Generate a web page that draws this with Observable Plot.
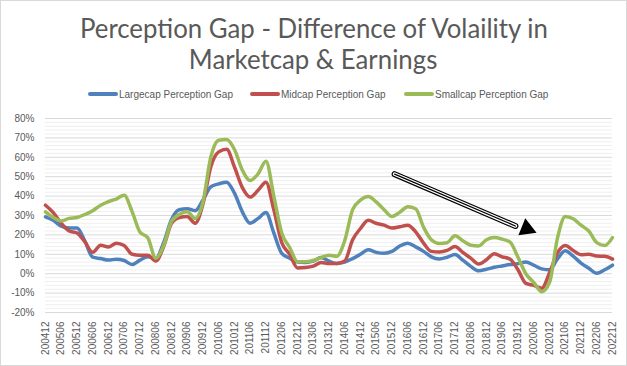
<!DOCTYPE html>
<html>
<head>
<meta charset="utf-8">
<script src="https://cdn.jsdelivr.net/npm/d3@7"></script>
<script src="https://cdn.jsdelivr.net/npm/@observablehq/plot@0.6"></script>
<style>
  html, body { margin: 0; padding: 0; background: #fff; }
  #wrap { position: relative; width: 627px; height: 366px; overflow: hidden; background: #fff; font-family: Lato, "Liberation Sans", Arial, sans-serif; color: #595959; }
  #frame { position: absolute; left: 0; top: 0; width: 627px; height: 366px; box-sizing: border-box; border: 1px solid #d9d9d9; pointer-events: none; }
  #title { position: absolute; left: 0; top: 12px; width: 627px; text-align: center; font-family: Lato, sans-serif; font-weight: 400; font-size: 27px; line-height: 31px; color: #595959; }
  #title span { display: inline-block; transform: scaleX(0.955); transform-origin: center; white-space: nowrap; }
  #legend { position: absolute; top: 86px; left: 0; width: 627px; height: 16px; }
  .item { position: absolute; top: 0; height: 16px; display: flex; align-items: center; font-family: "Liberation Sans", Arial, sans-serif; font-size: 10px; color: #595959; white-space: nowrap; }
  .sw { width: 30px; height: 4px; border-radius: 2px; margin-right: 1px; }
  #chart { position: absolute; left: 0; top: 105px; }
</style>
</head>
<body>
<div id="wrap">
  <div id="title"><span>Perception Gap - Difference of Volaility in</span><br><span>Marketcap &amp; Earnings</span></div>
  <div id="legend"></div>
  <div id="chart"></div>
  <div id="frame"></div>
</div>
<script>
// Quarter-end months (YYYYMM), Dec 2004 .. Dec 2022
const periods = [
  "200412","200503","200506","200509","200512","200603","200606","200609","200612",
  "200703","200706","200709","200712","200803","200806","200809","200812",
  "200903","200906","200909","200912","201003","201006","201009","201012",
  "201103","201106","201109","201112","201203","201206","201209","201212",
  "201303","201306","201309","201312","201403","201406","201409","201412",
  "201503","201506","201509","201512","201603","201606","201609","201612",
  "201703","201706","201709","201712","201803","201806","201809","201812",
  "201903","201906","201909","201912","202003","202006","202009","202012",
  "202103","202106","202109","202112","202203","202206","202209","202212"
];
const largecap = [
  29.3,27.5,24.5,23.5,23.5,17,8.5,7.8,7,
  7.5,6.8,4.7,7,8.7,7.8,16,28,
  33,33.5,32.5,38,44.8,46.3,47.2,41.5,
  32,26,28.5,31.5,21,10.5,8,6,
  5.8,6.5,8.3,6.5,5.3,6,7.8,10,
  12.3,11,10.5,11.5,14.3,15.7,13.8,11.5,
  8.7,7.6,8.5,9.9,7,3.8,1.5,2.3,
  3.3,4,4.7,5.2,6,4.4,2.5,2,
  7.5,11.8,9,5.5,2.8,0.2,2,4.4
];
const midcap = [
  35.3,31.5,26,22,21,16.5,11,14.7,13.8,
  15.7,14.5,10,9.5,9.5,6.5,14,26,
  29,29.5,26,36,55,62.8,64.2,55,
  44.5,39.5,43,47.2,33,16,10,3,
  3.2,3.9,5.8,5.2,5.3,6.5,17.5,23.3,
  27.5,26,25,23.5,24.2,25,21.6,15.8,
  11.5,11.2,12,14,11,8,5,7.2,
  10.3,8.7,7.5,2,-5,-6,-7.5,0.5,
  10.5,14.5,12,9.8,10,9.1,9,7.5
];
const smallcap = [
  31.9,29,27.2,28.5,29,30.5,32.5,35.3,37.2,
  38.5,40.5,32,21.5,18.5,8,14.5,27,
  30.5,31.9,28.5,37,60,68.8,69.2,64,
  53.5,48,51.5,58,40,21,13.5,6.2,
  6.1,6.8,8.3,9.5,9,17,33,37.9,
  39.8,37,33,29.5,31.7,34.5,33.5,24,
  17.5,15.6,16,19.5,17,14.7,14.3,17.5,
  18.6,17.8,16.3,8.5,0,-4.5,-9.3,-4.5,
  18,29.5,28.3,25,22,16,14.5,18.6
];
const seriesNames = ["Largecap Perception Gap", "Midcap Perception Gap", "Smallcap Perception Gap"];
const seriesColors = ["#4F81BD", "#C0504D", "#9BBB59"];
const xTickLabels = [
  "200412","200506","200512","200606","200612","200706","200712","200806","200812",
  "200906","200912","201006","201012","201106","201112","201206","201212","201306",
  "201312","201406","201412","201506","201512","201606","201612","201706","201712",
  "201806","201812","201906","201912","202006","202012","202106","202112","202206","202212"
];
const yTicks = [-20, -10, 0, 10, 20, 30, 40, 50, 60, 70, 80];
const yMinorTicks = [-18,-16,-14,-12,-8,-6,-4,-2,2,4,6,8,12,14,16,18,22,24,26,28,32,34,36,38,42,44,46,48,52,54,56,58,62,64,66,68,72,74,76,78];
// annotation arrow (date, value): start, end of shaft, tip
const arrowPts = [["201601", 51.3], ["201911", 24.6], ["202007", 21.2]];

const parse = d3.utcParse("%Y%m");
const valuesBySeries = [largecap, midcap, smallcap];
const rows = [];
valuesBySeries.forEach((vals, i) => {
  vals.forEach((v, j) => rows.push({series: seriesNames[i], date: parse(periods[j]), value: v}));
});
const xTicks = xTickLabels.map(parse);
const arrow = arrowPts.map(([d, v]) => ({date: parse(d), value: v}));
const shaft = arrow.slice(0, 2);
const tip = arrow[2];

// legend
const legend = document.getElementById("legend");
const legendLeft = [88, 250, 404];
seriesNames.forEach((n, i) => {
  const it = document.createElement("div");
  it.className = "item";
  it.style.left = legendLeft[i] + "px";
  it.innerHTML = `<div class="sw" style="background:${seriesColors[i]}"></div><span>${n}</span>`;
  legend.appendChild(it);
});

const plot = Plot.plot({
  width: 627,
  height: 261,
  marginLeft: 45,
  marginRight: 15,
  marginTop: 13,
  marginBottom: 54,
  style: {fontFamily: '"Liberation Sans", Arial, sans-serif', fontSize: "10px", color: "#595959", background: "transparent"},
  x: {type: "utc", domain: [parse(periods[0]), parse(periods[periods.length - 1])]},
  y: {domain: [-20, 80]},
  color: {domain: seriesNames, range: seriesColors},
  marks: [
    Plot.ruleY(yMinorTicks, {stroke: "#efefef", strokeWidth: 1}),
    Plot.ruleY(yTicks, {stroke: "#d9d9d9", strokeWidth: 1}),
    Plot.axisY({ticks: yTicks, tickFormat: d => d + "%", tickSize: 0, tickPadding: 11, label: null, fill: "#595959"}),
    Plot.axisX({ticks: xTicks, tickFormat: d3.utcFormat("%Y%m"), tickRotate: -90, tickSize: 0, tickPadding: 9, label: null, fill: "#595959"}),
    Plot.line(rows, {x: "date", y: "value", stroke: "series", z: "series", strokeWidth: 3.5, curve: "monotone-x", strokeLinejoin: "round", strokeLinecap: "round"}),
    Plot.line(shaft, {x: "date", y: "value", stroke: "black", strokeWidth: 6}),
    Plot.line(shaft, {x: "date", y: "value", stroke: "white", strokeWidth: 3.6}),
    Plot.line(shaft, {x: "date", y: "value", stroke: "black", strokeWidth: 1.3}),
    Plot.dot([tip], {x: "date", y: "value", symbol: "triangle", r: 6.8, fill: "black", stroke: "none", rotate: 112, dx: -9.6, dy: -3.9})
  ]
});
document.getElementById("chart").appendChild(plot);
</script>
</body>
</html>
